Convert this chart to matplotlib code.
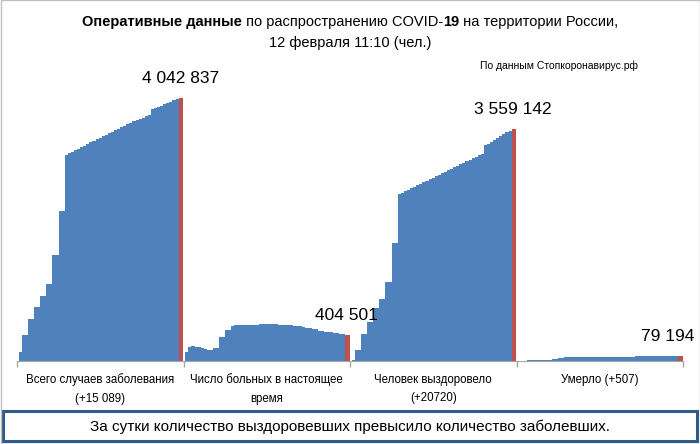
import matplotlib
matplotlib.use("Agg")
import matplotlib.pyplot as plt
from matplotlib.patches import Rectangle
import numpy as np

plt.rcParams['font.family'] = ['Liberation Sans', 'DejaVu Sans']

# values in thousands: May 1, monthly steps (shown twice), then daily Jan 1 .. Jan 28, Feb 3 .. Feb 12
cases = [138,
         392, 392, 641, 641, 834, 834, 992, 992, 1177, 1177, 1631, 1631, 2311, 2311,
         3159, 3187, 3213, 3237, 3260, 3284, 3309, 3332, 3356, 3379, 3402, 3425, 3448, 3471,
         3495, 3520, 3544, 3568, 3592, 3616, 3638, 3660, 3683, 3704, 3719, 3737, 3756, 3774,
         3864, 3884, 3904, 3923, 3942, 3962, 3985, 4007, 4028,
         4042.837]
active = [134,
          220, 230, 222, 210, 195, 180, 169, 169, 195, 195, 373, 373, 476, 476,
          545, 547, 550, 553, 555, 556, 557, 558, 560, 561, 561, 562, 562, 562,
          561, 560, 558, 556, 553, 550, 545, 538, 530, 521, 512, 503, 494, 485,
          462, 456, 450, 444, 438, 432, 426, 420, 414,
          404.501]
recovered = [13,
             171, 171, 412, 412, 602, 602, 809, 809, 952, 952, 1218, 1218, 1808, 1808,
             2560, 2584, 2606, 2629, 2651, 2675, 2698, 2722, 2744, 2767, 2790, 2813, 2836, 2859,
             2882, 2905, 2928, 2951, 2974, 2997, 3020, 3043, 3066, 3089, 3112, 3135, 3158, 3180,
             3310, 3339, 3368, 3397, 3425, 3453, 3482, 3510, 3538,
             3559.142]
deaths = [1.1,
          4.7, 4.7, 8.6, 8.6, 14.1, 14.1, 17.3, 17.3, 20.9, 20.9, 28.2, 28.2, 40.1, 40.1,
          57.0, 57.6, 58.1, 58.6, 59.1, 59.6, 60.2, 60.8, 61.4, 61.9, 62.5, 63.1, 63.7, 64.2,
          64.8, 65.3, 65.9, 66.4, 67.0, 67.5, 68.0, 68.5, 69.0, 69.6, 70.1, 70.6, 71.1, 71.6,
          74.5, 75.0, 75.5, 76.0, 76.6, 77.1, 77.6, 78.1, 78.7,
          79.194]

categories = ["Всего случаев заболевания\n(+15 089)",
              "Число больных в настоящее\nвремя",
              "Человек выздоровело\n(+20720)",
              "Умерло (+507)"]
last_labels = ["4 042 837", "404 501", "3 559 142", "79 194"]

series = [cases, active, recovered, deaths]
blue = '#4F81BD'
red = '#C0504D'

fig = plt.figure(figsize=(7, 4.44), dpi=100)
W, H = 700, 444
ax = fig.add_axes([17 / W, (H - 361) / H, 666 / W, 293 / H])

n = len(cases)
w = 0.98 / n
for g, vals in enumerate(series):
    xs = g + (np.arange(n) - (n - 1) / 2) * w
    cols = [blue] * (n - 1) + [red]
    ax.bar(xs[:-1], np.array(vals[:-1]) / 1000, width=w * 1.08, color=blue, linewidth=0)
    # today's value, a little wider like the original
    ax.bar(xs[-1] + w * 0.2, vals[-1] / 1000, width=w * 1.4, color=red, linewidth=0)
    top = vals[-1] / 1000
    dx = -0.07 if g == 3 else 0
    ax.annotate(last_labels[g], (xs[-1] + dx, top), xytext=(0, 8.5), textcoords='offset points',
                ha='center', va='bottom', fontsize=12.5)

ax.set_xlim(-0.5, 3.5)
ax.set_ylim(0, 4.5)
for s in ['top', 'right', 'left']:
    ax.spines[s].set_visible(False)
ax.spines['bottom'].set_color('#A6A6A6')
ax.set_yticks([])
ax.set_xticks(range(4))
ax.set_xticklabels(categories, fontsize=8.3, linespacing=1.75)
ax.tick_params(axis='x', which='major', length=0, pad=9)
ax.set_xticks([-0.5, 0.5, 1.5, 2.5, 3.5], minor=True)
ax.tick_params(axis='x', which='minor', length=4, color='#A6A6A6', width=1)

# title with bold parts
fig.canvas.draw()
rend = fig.canvas.get_renderer()
parts = [("Оперативные данные", 'bold'), (" по распространению COVID-", 'normal'),
         ("19", 'bold'), (" на территории России,", 'normal')]
texts = []
for s, wt in parts:
    t = fig.text(0, 1 - 22 / H, s, fontsize=10.5, fontweight=wt, va='center', ha='left')
    texts.append(t)
widths = [t.get_window_extent(rend).width for t in texts]
x0 = (W - sum(widths)) / 2
for t, wd in zip(texts, widths):
    t.set_x(x0 / W)
    x0 += wd
fig.text(0.5, 1 - 43 / H, "12 февраля 11:10 (чел.)", fontsize=10.5, ha='center', va='center')
fig.text(638 / W, 1 - 66 / H, "По данным Стопкоронавирус.рф", fontsize=7.5, ha='right', va='center')

# bottom note box
fig.patches.append(Rectangle((3 / W, 3 / H), 694 / W, 30 / H, transform=fig.transFigure,
                             fill=False, edgecolor='#2F5A8C', linewidth=2.2))
fig.text(0.5, 1 - 427 / H, "За сутки количество выздоровевших превысило количество заболевших.",
         fontsize=11, ha='center', va='center')

# outer frame
fig.patches.append(Rectangle((0.5 / W, 0.5 / H), 699 / W, 443 / H, transform=fig.transFigure,
                             fill=False, edgecolor='#BFBFBF', linewidth=1))

fig.savefig("out.png", dpi=100)
